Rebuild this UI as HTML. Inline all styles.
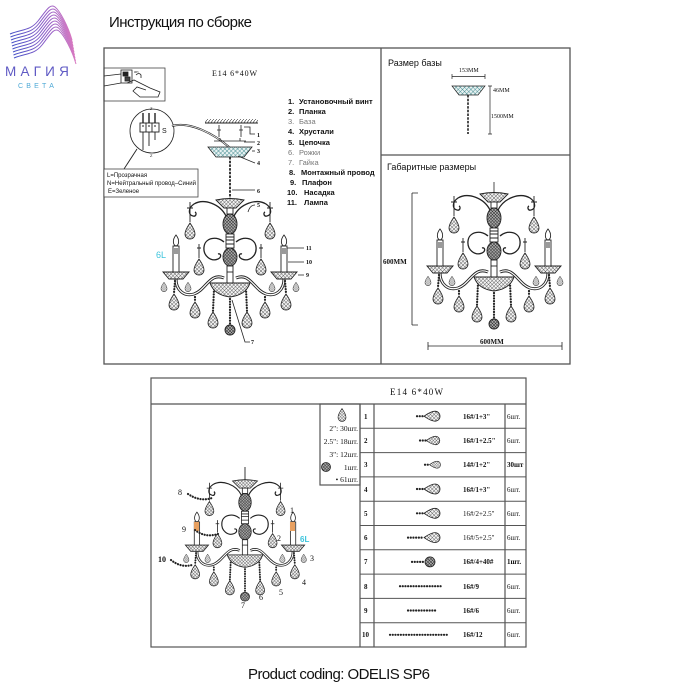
<!DOCTYPE html>
<html><head><meta charset="utf-8">
<style>
html,body{margin:0;padding:0;background:#fff;}
svg{display:block;}
text{font-family:"Liberation Sans",sans-serif;fill:#111;}
.s{font-family:"Liberation Serif",serif;}
.bd{stroke:#222;stroke-width:2.2;stroke-dasharray:0.1 2.6;stroke-linecap:round;fill:none;}
</style></head><body>
<svg width="700" height="700" viewBox="0 0 700 700" xmlns="http://www.w3.org/2000/svg">
<defs>
 <pattern id="hx" width="2.6" height="2.6" patternUnits="userSpaceOnUse" patternTransform="rotate(45)">
  <rect width="2.6" height="2.6" fill="#f4f4f4"/>
  <path d="M0,0H2.6M0,0V2.6" stroke="#333" stroke-width="0.7"/>
 </pattern>
 <pattern id="hd" width="2.2" height="2.2" patternUnits="userSpaceOnUse" patternTransform="rotate(45)">
  <rect width="2.2" height="2.2" fill="#aaa"/>
  <path d="M0,0H2.2M0,0V2.2" stroke="#222" stroke-width="0.8"/>
 </pattern>
 <pattern id="ht" width="3" height="3" patternUnits="userSpaceOnUse" patternTransform="rotate(45)">
  <rect width="3" height="3" fill="#e8f2f2"/>
  <path d="M0,0H3M0,0V3" stroke="#2a7a80" stroke-width="0.8"/>
 </pattern>
 <pattern id="dg" width="3" height="4" patternUnits="userSpaceOnUse">
  <path d="M0,4 L3,0" stroke="#333" stroke-width="0.6"/>
 </pattern>
 <linearGradient id="lg" gradientUnits="userSpaceOnUse" x1="8" y1="0" x2="75" y2="0">
  <stop offset="0" stop-color="#3f4fc6"/>
  <stop offset="0.5" stop-color="#8a5cc8"/>
  <stop offset="1" stop-color="#e07cc0"/>
 </linearGradient>
 <path id="drop" d="M0,-8 C2,-5 5,-1 5,3 A5,5 0 0 1 -5,3 C-5,-1 -2,-5 0,-8Z" fill="url(#hx)" stroke="#222" stroke-width="0.8"/>
 <g id="half" fill="none" stroke="#222" stroke-width="0.9">
  <path d="M-4,16 C-10,4 -26,-2 -36,4 C-42,8 -42,15 -37,16 C-34,17 -33,13 -35,12" stroke-width="1.3"/>
  <path d="M-40,2 V22 M-43,8 H-37"/>
  <use href="#drop" x="-40" y="31"/>
  <path d="M-6,42 C-12,36 -25,37 -26,47 C-27,56 -19,62 -12,59 C-8,57 -9,53 -12,54" stroke-width="1.3"/>
  <path d="M-31,44 V58 M-33,48 H-29"/>
  <use href="#drop" x="-31" y="67"/>
  <path d="M-6,78 C-20,72 -24,90 -36,94 C-46,97 -54,90 -54,79" stroke-width="3"/>
  <path d="M-6,78 C-20,72 -24,90 -36,94 C-46,97 -54,90 -54,79" stroke="#fff" stroke-width="1.2"/>
  <path d="M-67,72 L-41,72 L-47,79 L-61,79 Z" fill="url(#hx)"/>
  <rect x="-57" y="46" width="6" height="26" fill="#fff"/>
  <path d="M-54,35 C-50,40 -51,45 -54,46 C-57,45 -58,40 -54,35Z" fill="#fff"/>
  <path d="M-55,48 V54 M-53,48 V54"/>
  <use href="#drop" transform="translate(-66,87) scale(0.6)"/>
  <use href="#drop" transform="translate(-42,87) scale(0.6)"/>
  <line class="bd" x1="-55" y1="81" x2="-56" y2="93"/>
  <use href="#drop" x="-56" y="102"/>
  <line class="bd" x1="-35" y1="97" x2="-35" y2="101"/>
  <use href="#drop" x="-35" y="110"/>
  <line class="bd" x1="-16" y1="89" x2="-17" y2="111"/>
  <use href="#drop" x="-17" y="120"/>
 </g>
 <g id="ch" fill="none" stroke="#222" stroke-width="0.9">
  <use href="#half"/>
  <use href="#half" transform="scale(-1,1)"/>
  <path d="M-14,0 Q0,-3 14,0 L6,8 L-6,8 Z" fill="url(#hx)"/>
  <rect x="-3" y="8" width="6" height="6" fill="#fff"/>
  <ellipse cx="0" cy="24" rx="7" ry="10" fill="url(#hd)"/>
  <rect x="-4" y="34" width="8" height="14" fill="#fff"/>
  <path d="M-4,37 H4 M-4,40 H4 M-4,44 H4"/>
  <ellipse cx="0" cy="57" rx="7" ry="9" fill="url(#hd)"/>
  <rect x="-3" y="66" width="6" height="17" fill="#fff"/>
  <path d="M-3,72 H3"/>
  <path d="M-20,83 L20,83 Q16,95 0,97 Q-16,95 -20,83Z" fill="url(#hx)"/>
  <line class="bd" x1="0" y1="99" x2="0" y2="124"/>
  <circle cx="0" cy="130" r="5" fill="url(#hd)"/>
 </g>
</defs>

<!-- Logo -->
<g fill="none" stroke="url(#lg)" stroke-width="1">
 <path id="wv" d="M10,34 C22,29 30,31 38,21 C46,11 50,3 55,7 C60,11 68,26 72,40"/>
 <use href="#wv" transform="translate(0.5,3)"/>
 <use href="#wv" transform="translate(1,6)"/>
 <use href="#wv" transform="translate(1.5,9)"/>
 <use href="#wv" transform="translate(2,12)"/>
 <use href="#wv" transform="translate(2.5,15)"/>
 <use href="#wv" transform="translate(3,18)"/>
 <use href="#wv" transform="translate(3.5,21)"/>
 <use href="#wv" transform="translate(4,24)"/>
</g>
<text x="5" y="76" font-size="13.5" letter-spacing="4.2" style="fill:#5f5ac4">МАГИЯ</text>
<text x="18" y="88" font-size="7" letter-spacing="3.2" style="fill:#4fa9d6">СВЕТА</text>

<!-- Title -->
<text x="109" y="27" font-size="15" textLength="143">Инструкция по сборке</text>

<!-- Top box -->
<g fill="none" stroke="#555" stroke-width="1.3">
 <rect x="104" y="48" width="466" height="316"/>
 <line x1="381" y1="48" x2="381" y2="364"/>
 <line x1="381" y1="155" x2="570" y2="155"/>
</g>

<!-- hand inset -->
<g fill="none" stroke="#222" stroke-width="0.8">
 <rect x="104" y="68" width="61" height="33" stroke="#444"/>
 <path d="M104,76 L121,74 M104,86 L121,83"/>
 <rect x="121" y="70" width="11" height="13" fill="#fff"/>
 <rect x="123" y="72" width="5" height="4" fill="#222"/>
 <rect x="125" y="77" width="5" height="4" fill="#444"/>
 <path d="M136,75 q3,-3 5,0 l0,3"/>
 <path d="M127,83 L134,80 L150,88 L160,92 L158,97 L140,97 L133,91 L137,87 L146,90"/>
</g>
<text x="134" y="73" font-size="4">on</text>

<!-- wiring circle -->
<circle cx="152" cy="131" r="22" fill="#fff" stroke="#222" stroke-width="0.8"/>
<g stroke="#222" fill="none" stroke-width="0.9">
 <path d="M143,113 V123 M149,113 V123 M155,113 V123" stroke-width="1.4"/>
 <rect x="140" y="123" width="19" height="9" fill="#fff"/>
 <path d="M146,123 V132 M152,123 V132"/>
 <path d="M142,126 h2 M148,126 h2 M154,126 h2"/>
 <path d="M143,132 V150 M149,132 V146 M155,132 V140"/>
 <path d="M172,126 C190,121 214,134 229,147" stroke-width="2"/>
 <path d="M172,126 C190,121 214,134 229,147" stroke="#fff" stroke-width="0.7"/>
 <line x1="124" y1="169" x2="137" y2="149"/>
</g>
<text x="162" y="133" font-size="7">S</text>
<text x="150" y="110" font-size="4">Z</text>
<text x="150" y="157" font-size="4">Z</text>
<rect x="104" y="169" width="94" height="28" fill="#fff" stroke="#444" stroke-width="0.8"/>
<text x="107" y="177" font-size="6">L=Прозрачная</text>
<text x="107" y="185" font-size="6" textLength="89">N=Нейтральный провод–Синий</text>
<text x="108" y="193" font-size="6">E=Зеленое</text>

<text x="212" y="76" font-size="8" class="s" textLength="45">E14  6*40W</text>

<!-- numbered list -->
<g font-size="7.5" font-weight="bold">
 <text x="288" y="104">1.</text><text x="299" y="104">Установочный винт</text>
 <text x="288" y="114">2.</text><text x="299" y="114">Планка</text>
 <text x="288" y="124" style="fill:#777;font-weight:normal">3.</text><text x="299" y="124" style="fill:#777;font-weight:normal">База</text>
 <text x="288" y="134">4.</text><text x="299" y="134">Хрустали</text>
 <text x="288" y="145">5.</text><text x="299" y="145">Цепочка</text>
 <text x="288" y="155" style="fill:#777;font-weight:normal">6.</text><text x="299" y="155" style="fill:#777;font-weight:normal">Рожки</text>
 <text x="288" y="165" style="fill:#777;font-weight:normal">7.</text><text x="299" y="165" style="fill:#777;font-weight:normal">Гайка</text>
 <text x="289" y="175">8.</text><text x="301" y="175">Монтажный провод</text>
 <text x="290" y="185">9.</text><text x="302" y="185">Плафон</text>
 <text x="287" y="195">10.</text><text x="304" y="195">Насадка</text>
 <text x="287" y="205">11.</text><text x="304" y="205">Лампа</text>
</g>

<!-- top-left chandelier -->
<rect x="205" y="119" width="53" height="4" fill="url(#dg)"/>
<g fill="none" stroke="#222" stroke-width="0.8">
 <line x1="205" y1="123" x2="258" y2="123" stroke-width="1"/>
 <path d="M219,125 V137 M241,125 V137 M217,130 h4 M239,130 h4"/>
 <path d="M244,127 H250 V134 H255"/>
 <path d="M214,141 H246 M220,138 V141 M240,138 V141"/>
 <path d="M244,142 H255"/>
 <path d="M208,147 L252,147 L244,157 L216,157Z" fill="url(#ht)"/>
 <path d="M252,151 H255"/>
 <path d="M238,156 L255,163"/>
 <line x1="230" y1="157" x2="230" y2="200" stroke-width="1.8" stroke-dasharray="2.5 1.2"/>
 <path d="M232,190 H255"/>
 <path d="M248,212 Q250,205 255,205"/>
 <path d="M287,248 H304 M288,262 H304 M298,275 H304"/>
 <path d="M232,300 L245,342 H250"/>
</g>
<use href="#ch" transform="translate(230,200)"/>
<g font-size="6" class="s" font-weight="bold">
 <text x="257" y="137" class="s">1</text>
 <text x="257" y="145" class="s">2</text>
 <text x="257" y="153" class="s">3</text>
 <text x="257" y="165" class="s">4</text>
 <text x="257" y="193" class="s">6</text>
 <text x="257" y="207" class="s">5</text>
 <text x="306" y="250" class="s">11</text>
 <text x="306" y="264" class="s">10</text>
 <text x="306" y="277" class="s">9</text>
 <text x="251" y="344" class="s">7</text>
</g>
<text x="156" y="258" font-size="9" style="fill:#3cc4dc">6L</text>

<!-- top-right panel -->
<text x="388" y="66" font-size="9">Размер базы</text>
<g fill="none" stroke="#222" stroke-width="0.7">
 <path d="M452,74 V79 M452,76.5 H485 M485,74 V79"/>
 <path d="M452,86 L485,86 L478,95 L459,95Z" fill="url(#ht)"/>
 <line x1="468" y1="95" x2="468" y2="134" stroke-width="1.6" stroke-dasharray="2.5 1.2"/>
 <path d="M488,86 H492 M490,86 V134 M488,134 H492"/>
</g>
<g font-size="6" class="s">
 <text x="459" y="72" class="s">153ММ</text>
 <text x="493" y="92" class="s">46ММ</text>
 <text x="491" y="118" class="s">1500ММ</text>
</g>
<text x="387" y="170" font-size="9">Габаритные размеры</text>
<g fill="none" stroke="#222" stroke-width="0.8">
 <path d="M412,193 V325 M412,193 H418 M412,325 H418"/>
 <path d="M428,342 V350 M428,346 H562 M562,342 V350"/>
 <line x1="494" y1="182" x2="494" y2="194"/>
</g>
<use href="#ch" transform="translate(494,194)"/>
<text x="383" y="264" font-size="7" font-weight="bold" class="s">600ММ</text>
<text x="480" y="344" font-size="7" font-weight="bold" class="s">600ММ</text>

<!-- bottom table -->
<g fill="none" stroke="#555" stroke-width="1.2">
 <rect x="151" y="378" width="375" height="269"/>
 <line x1="151" y1="404" x2="526" y2="404"/>
 <line x1="360" y1="404" x2="360" y2="647"/>
 <line x1="374" y1="404" x2="374" y2="647"/>
 <line x1="505" y1="404" x2="505" y2="647"/>
 <rect x="320" y="404" width="40" height="81"/>
</g>
<g stroke="#555" stroke-width="1">
 <line x1="360" y1="428.3" x2="526" y2="428.3"/>
 <line x1="360" y1="452.6" x2="526" y2="452.6"/>
 <line x1="360" y1="476.9" x2="526" y2="476.9"/>
 <line x1="360" y1="501.2" x2="526" y2="501.2"/>
 <line x1="360" y1="525.5" x2="526" y2="525.5"/>
 <line x1="360" y1="549.8" x2="526" y2="549.8"/>
 <line x1="360" y1="574.1" x2="526" y2="574.1"/>
 <line x1="360" y1="598.4" x2="526" y2="598.4"/>
 <line x1="360" y1="622.7" x2="526" y2="622.7"/>
</g>
<text x="390" y="395" font-size="9" class="s" textLength="53">E14  6*40W</text>

<!-- legend -->
<use href="#drop" transform="translate(342,415) scale(0.8)"/>
<g font-size="7.5" class="s" text-anchor="end">
 <text x="358" y="431" class="s">2": 30шт.</text>
 <text x="358" y="444" class="s">2.5": 18шт.</text>
 <text x="358" y="457" class="s">3": 12шт.</text>
 <text x="358" y="470" class="s">1шт.</text>
 <text x="358" y="482" class="s">• 61шт.</text>
</g>
<circle cx="326" cy="467" r="4.5" fill="url(#hd)" stroke="#222" stroke-width="0.8"/>

<!-- row icons -->
<g>
 <line class="bd" x1="417" y1="416.2" x2="424" y2="416.2"/>
 <use href="#drop" transform="translate(432,416.2) rotate(-90)"/>
 <line class="bd" x1="420" y1="440.5" x2="426" y2="440.5"/>
 <use href="#drop" transform="translate(433,440.5) rotate(-90) scale(0.85)"/>
 <line class="bd" x1="425" y1="464.7" x2="429" y2="464.7"/>
 <use href="#drop" transform="translate(435,464.7) rotate(-90) scale(0.7)"/>
 <line class="bd" x1="417" y1="489" x2="424" y2="489"/>
 <use href="#drop" transform="translate(432,489) rotate(-90)"/>
 <line class="bd" x1="417" y1="513.3" x2="424" y2="513.3"/>
 <use href="#drop" transform="translate(432,513.3) rotate(-90)"/>
 <line class="bd" x1="408" y1="537.6" x2="424" y2="537.6"/>
 <use href="#drop" transform="translate(432,537.6) rotate(-90)"/>
 <line class="bd" x1="412" y1="561.9" x2="424" y2="561.9"/>
 <circle cx="430" cy="561.9" r="5" fill="url(#hd)" stroke="#222" stroke-width="0.8"/>
 <line class="bd" x1="400" y1="586.2" x2="443" y2="586.2"/>
 <line class="bd" x1="408" y1="610.5" x2="437" y2="610.5"/>
 <line class="bd" x1="390" y1="634.8" x2="448" y2="634.8"/>
</g>
<g font-size="7" class="s" font-weight="bold">
 <text x="364" y="419" class="s">1</text>
 <text x="364" y="443" class="s">2</text>
 <text x="364" y="467" class="s">3</text>
 <text x="364" y="492" class="s">4</text>
 <text x="364" y="516" class="s">5</text>
 <text x="364" y="540" class="s">6</text>
 <text x="364" y="564" class="s">7</text>
 <text x="364" y="589" class="s">8</text>
 <text x="364" y="613" class="s">9</text>
 <text x="362" y="637" class="s">10</text>

 <text x="463" y="419" class="s">16#/1+3"</text>
 <text x="463" y="443" class="s">16#/1+2.5"</text>
 <text x="463" y="467" class="s">14#/1+2"</text>
 <text x="463" y="492" class="s">16#/1+3"</text>
 <text x="463" y="516" class="s" font-weight="normal">16#/2+2.5"</text>
 <text x="463" y="540" class="s" font-weight="normal">16#/5+2.5"</text>
 <text x="463" y="564" class="s">16#/4+40#</text>
 <text x="463" y="589" class="s">16#/9</text>
 <text x="463" y="613" class="s">16#/6</text>
 <text x="463" y="637" class="s">16#/12</text>

 <text x="507" y="419" class="s" font-weight="normal">6шт.</text>
 <text x="507" y="443" class="s" font-weight="normal">6шт.</text>
 <text x="507" y="467" class="s">30шт</text>
 <text x="507" y="492" class="s" font-weight="normal">6шт.</text>
 <text x="507" y="516" class="s" font-weight="normal">6шт.</text>
 <text x="507" y="540" class="s" font-weight="normal">6шт.</text>
 <text x="507" y="564" class="s">1шт.</text>
 <text x="507" y="589" class="s" font-weight="normal">6шт.</text>
 <text x="507" y="613" class="s" font-weight="normal">6шт.</text>
 <text x="507" y="637" class="s" font-weight="normal">6шт.</text>
</g>

<!-- bottom chandelier -->
<line x1="245" y1="467" x2="245" y2="481" stroke="#222" stroke-width="0.9"/>
<use href="#ch" transform="translate(245,481) scale(0.89)"/>
<rect x="194" y="522" width="5" height="9" fill="#e8a060"/>
<rect x="290" y="522" width="5" height="9" fill="#e8a060"/>
<path class="bd" d="M188,494 Q200,502 212,498"/>
<path class="bd" d="M195,530 Q205,538 218,534"/>
<path class="bd" d="M171,560 Q181,568 192,565"/>
<g font-size="8" class="s">
 <text x="178" y="495" class="s">8</text>
 <text x="290" y="513" class="s">1</text>
 <text x="182" y="532" class="s">9</text>
 <text x="277" y="541" class="s">2</text>
 <text x="310" y="561" class="s">3</text>
 <text x="158" y="562" class="s" font-weight="bold">10</text>
 <text x="302" y="585" class="s">4</text>
 <text x="279" y="595" class="s">5</text>
 <text x="259" y="600" class="s">6</text>
 <text x="241" y="608" class="s">7</text>
</g>
<text x="300" y="542" font-size="8" font-weight="bold" style="fill:#3cc4dc">6L</text>

<!-- footer -->
<text x="248" y="679" font-size="15" textLength="182">Product coding: ODELIS SP6</text>
</svg>
</body></html>
